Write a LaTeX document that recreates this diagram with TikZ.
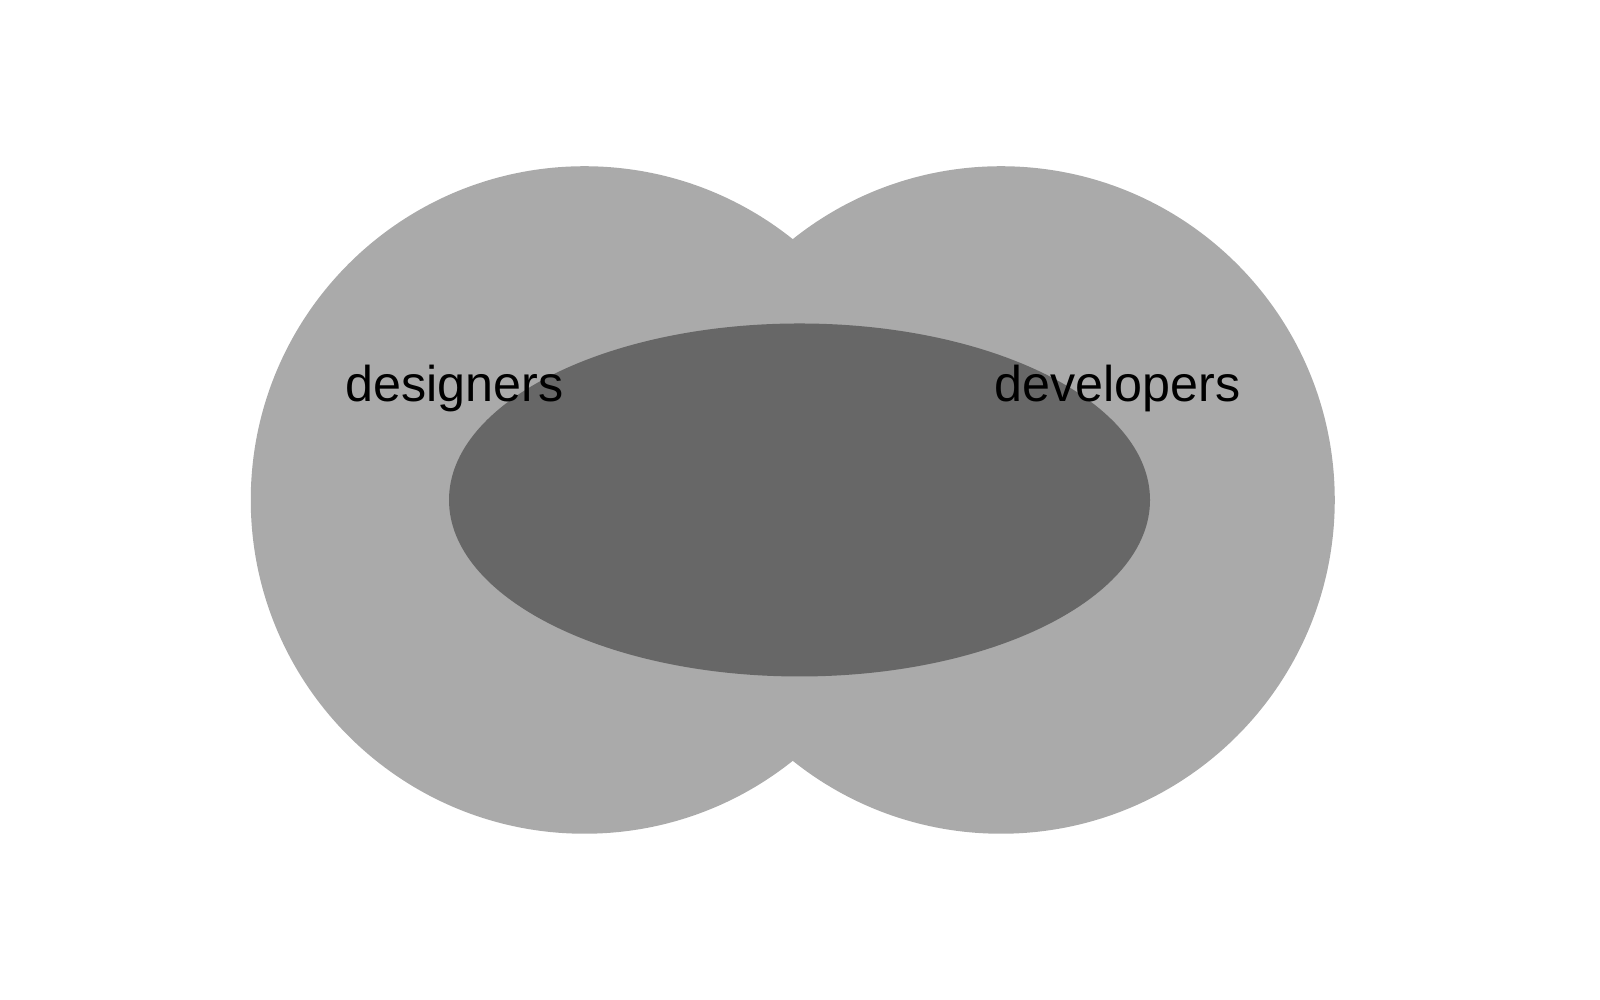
\documentclass[tikz,border=0pt]{standalone}
\usepackage{fontspec}
\setmainfont{Liberation Sans}
\usetikzlibrary{shapes.geometric}
\definecolor{setgray}{HTML}{AAAAAA}
\definecolor{coregray}{HTML}{676767}
\begin{document}
\begin{tikzpicture}[set/.style={circle, fill=setgray, inner sep=0pt, minimum size=6.675cm},
    core/.style={ellipse, fill=coregray, inner sep=0pt, minimum width=7.01cm, minimum height=3.53cm},
    label/.style={inner sep=0pt, anchor=base west, font=\fontsize{14.3}{16}\selectfont}]
    \useasboundingbox (0,0) rectangle (16,10);

    \node[set] (left) at (5.845,5) {};
    \node[set] (right) at (10.01,5) {};
    \node[core] (both) at (7.995,5) {};

    \node[label] (designers) at (3.45,5.98) {designers};
    \node[label] (developers) at (9.94,5.98) {developers};
\end{tikzpicture}
\end{document}
